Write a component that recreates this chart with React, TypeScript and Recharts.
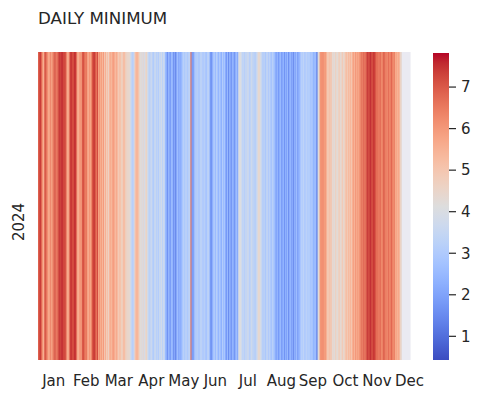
import React from "react";
import { BarChart, Bar, XAxis, YAxis } from "recharts";

// ---- data (daily minimum, 2024) ----
const janValues = [6.9, 7.2, 7.4, 6.8, 6.1, 5.6, 6.8, 7.1, 6.6, 6.2, 5.7, 5.9, 6.4, 5.8, 6.3, 6.7, 7.0, 6.8, 6.5, 6.9, 7.3, 7.5, 7.2, 7.6, 7.4, 7.1, 7.3, 6.9, 5.8, 5.5, 6.0];
const febValues = [7.2, 7.5, 7.3, 7.0, 7.4, 7.6, 7.1, 5.9, 5.4, 5.8, 6.2, 5.7, 6.9, 7.2, 6.8, 6.4, 6.7, 5.9, 5.5, 6.1, 5.7, 6.2, 7.0, 7.3, 7.4, 7.0, 6.6, 7.2, 5.8];
const marValues = [6.1, 5.6, 5.9, 5.4, 6.0, 5.0, 5.6, 4.8, 5.2, 4.6, 5.5, 5.7, 5.4, 5.9, 6.0, 5.6, 5.3, 5.8, 5.2, 4.8, 5.3, 5.0, 4.6, 4.9, 5.4, 5.1, 4.5, 4.7, 4.3, 4.6, 4.2];
const aprValues = [3.6, 3.3, 3.1, 3.7, 5.0, 5.3, 5.5, 5.2, 4.8, 4.1, 4.4, 3.9, 4.5, 3.8, 4.2, 4.7, 4.0, 3.5, 3.2, 3.4, 3.7, 3.3, 3.0, 3.5, 3.6, 3.2, 3.4, 3.1, 3.6, 3.5];
const mayValues = [3.8, 3.3, 3.7, 3.4, 2.5, 2.2, 1.6, 2.4, 2.0, 1.8, 2.6, 2.3, 1.5, 2.1, 1.3, 2.2, 2.7, 1.9, 2.4, 2.1, 2.6, 3.0, 3.3, 2.8, 3.4, 3.1, 2.9, 3.5, 3.2, 6.8, 2.1];
const junValues = [1.7, 2.3, 3.1, 2.9, 3.3, 3.0, 2.8, 3.2, 3.4, 3.1, 2.9, 3.3, 3.0, 2.7, 3.2, 3.4, 3.0, 1.9, 1.6, 2.2, 2.8, 3.1, 2.5, 3.2, 2.9, 2.4, 3.0, 2.7, 2.3, 3.1];
const julValues = [2.6, 2.9, 2.2, 1.8, 2.5, 1.5, 2.3, 2.0, 1.7, 2.4, 2.1, 1.6, 2.3, 2.6, 2.0, 3.9, 4.2, 4.0, 3.6, 3.2, 3.5, 3.0, 3.7, 3.3, 3.9, 3.4, 3.1, 3.6, 3.8, 3.2, 3.5];
const augValues = [3.0, 3.4, 3.7, 4.2, 4.6, 4.0, 3.8, 3.3, 3.0, 3.5, 2.8, 3.2, 3.6, 2.9, 3.4, 3.1, 2.7, 3.3, 3.0, 2.8, 2.3, 2.0, 2.5, 1.8, 2.2, 2.6, 1.9, 2.1, 2.4, 1.7, 2.3];
const sepValues = [2.0, 2.5, 1.6, 2.2, 2.4, 1.9, 2.1, 1.5, 2.3, 2.0, 2.6, 1.8, 2.2, 2.4, 2.9, 3.2, 3.0, 3.4, 2.8, 3.1, 3.3, 2.9, 3.2, 3.0, 2.7, 3.1, 2.6, 2.3, 2.8, 2.4];
const octValues = [1.1, 4.0, 4.3, 5.9, 6.2, 6.0, 6.3, 5.8, 6.1, 5.7, 5.0, 4.8, 5.2, 4.9, 5.1, 4.3, 4.5, 4.1, 4.7, 4.4, 4.2, 4.6, 4.8, 4.3, 4.5, 4.9, 4.4, 4.6, 5.0, 5.2, 4.9];
const novValues = [5.3, 5.1, 5.4, 5.0, 5.6, 5.9, 5.5, 6.1, 5.7, 6.0, 5.8, 6.2, 6.4, 6.7, 6.5, 6.9, 6.6, 6.8, 7.2, 7.5, 7.1, 7.4, 7.6, 7.0, 7.3, 7.5, 7.2, 6.9, 6.5, 6.8];
const decValues: (number | null)[] = [6.2, 6.9, 6.4, 6.1, 6.7, 7.0, 6.3, 6.6, 6.0, 6.8, 6.4, 6.2, 6.9, 6.5, 6.1, 6.6, 5.6, 5.8, 5.4, 5.7, 5.5, 4.6, 4.4, null, null, null, null, null, null, null, null];

const monthLabels = ["Jan", "Feb", "Mar", "Apr", "May", "Jun", "Jul", "Aug", "Sep", "Oct", "Nov", "Dec"];
const monthTickDays = [15, 47, 79, 111, 143, 174, 206, 239, 270, 302, 333, 365];
const yearLabel = "2024";
const colorbarTicks = [1, 2, 3, 4, 5, 6, 7];
const VMIN = 0.43;
const VMAX = 7.82;

const allValues: (number | null)[] = [
  ...janValues, ...febValues, ...marValues, ...aprValues, ...mayValues, ...junValues,
  ...julValues, ...augValues, ...sepValues, ...octValues, ...novValues, ...decValues,
];
const dayData = allValues.map((v, i) => ({ day: i, span: 1, value: v }));
const colorbarData = [{ name: "cb", range: [VMIN, VMAX] }];

// matplotlib "coolwarm"
const COOLWARM: number[][] = [
  [59, 76, 192], [68, 90, 204], [77, 104, 215], [87, 117, 225], [98, 130, 234], [108, 142, 241],
  [119, 154, 247], [130, 165, 251], [141, 176, 254], [152, 185, 255], [163, 194, 255], [174, 201, 253],
  [184, 208, 249], [194, 213, 244], [204, 217, 238], [213, 219, 230], [221, 221, 221], [229, 216, 209],
  [236, 211, 197], [241, 204, 185], [245, 196, 173], [247, 187, 160], [247, 177, 148], [247, 166, 135],
  [244, 154, 123], [241, 141, 111], [236, 127, 99], [229, 112, 88], [222, 96, 77], [213, 80, 66],
  [203, 62, 56], [192, 40, 47], [180, 4, 38],
];
function cmapT(t: number): string {
  const c = Math.max(0, Math.min(1, t)) * (COOLWARM.length - 1);
  const i = Math.min(COOLWARM.length - 2, Math.floor(c));
  const f = c - i;
  const a = COOLWARM[i], b = COOLWARM[i + 1];
  const r = Math.round(a[0] + (b[0] - a[0]) * f);
  const g = Math.round(a[1] + (b[1] - a[1]) * f);
  const bl = Math.round(a[2] + (b[2] - a[2]) * f);
  return `rgb(${r},${g},${bl})`;
}
function colorFor(v: number | null): string {
  if (v === null || v === undefined) return "#eaeaf2";
  return cmapT((v - VMIN) / (VMAX - VMIN));
}

const FONT = "'DejaVu Sans', sans-serif";
const TEXT = "#262626";
const gradientStops = COOLWARM.map((c, i) => ({ offset: 1 - i / (COOLWARM.length - 1), color: `rgb(${c[0]},${c[1]},${c[2]})` })).reverse();

const DayCell = (props: any) => {
  const { x, y, width, height, payload } = props;
  return <rect x={x} y={y} width={width + 0.6} height={height} fill={colorFor(payload.value)} />;
};

const YearTick = (props: any) => {
  const { x, y } = props;
  return (
    <text transform={`translate(${x},${y + 16}) rotate(-90)`} textAnchor="middle" fill={TEXT}
      fontFamily={FONT} fontSize={15}>{yearLabel}</text>
  );
};

export default function App() {
  return (
    <div style={{ position: "relative", width: 481, height: 399, background: "#fff" }}>
      <style>{"body{margin:0}"}</style>
      <div style={{ position: "absolute", left: 0, top: 0 }}>
        <BarChart width={481} height={399} data={dayData}
          margin={{ top: 52, right: 71, left: 0, bottom: 0 }}
          barCategoryGap={0} barGap={0}>
          <XAxis dataKey="day" type="category" height={39} ticks={monthTickDays}
            tickFormatter={(d: number) => monthLabels[monthTickDays.indexOf(d)] ?? ""}
            axisLine={false} tickLine={false} tickSize={6} tickMargin={9}
            interval={0}
            tick={{ fill: TEXT, fontFamily: FONT, fontSize: 15 }} />
          <YAxis type="number" domain={[0, 1]} ticks={[0.5]} width={38}
            axisLine={false} tickLine={false} tickSize={0} tickMargin={14}
            tick={<YearTick />} />
          <Bar dataKey="span" isAnimationActive={false} shape={<DayCell />} />
        </BarChart>
      </div>
      <div style={{ position: "absolute", left: 0, top: 0 }}>
        <BarChart width={481} height={399} data={colorbarData}
          margin={{ top: 53, right: 0, left: 433, bottom: 39 }}
          barCategoryGap={0} barGap={0}>
          <defs>
            <linearGradient id="cbGrad" x1="0" y1="0" x2="0" y2="1">
              {gradientStops.map((s, i) => (
                <stop key={i} offset={s.offset} stopColor={s.color} />
              ))}
            </linearGradient>
          </defs>
          <XAxis dataKey="name" type="category" hide />
          <YAxis orientation="right" type="number" domain={[VMIN, VMAX]} allowDataOverflow
            ticks={colorbarTicks} width={32} axisLine={false}
            tickLine={{ stroke: TEXT, strokeWidth: 1.2 }} tickSize={7} tickMargin={5}
            tick={{ fill: TEXT, fontFamily: FONT, fontSize: 15 }} />
          <Bar dataKey="range" fill="url(#cbGrad)" isAnimationActive={false} />
        </BarChart>
      </div>
      <svg width={481} height={399} style={{ position: "absolute", left: 0, top: 0, pointerEvents: "none" }}>
        <text x={38} y={24} fill={TEXT} fontFamily={FONT} fontSize={16.7}>DAILY MINIMUM</text>
      </svg>
    </div>
  );
}
